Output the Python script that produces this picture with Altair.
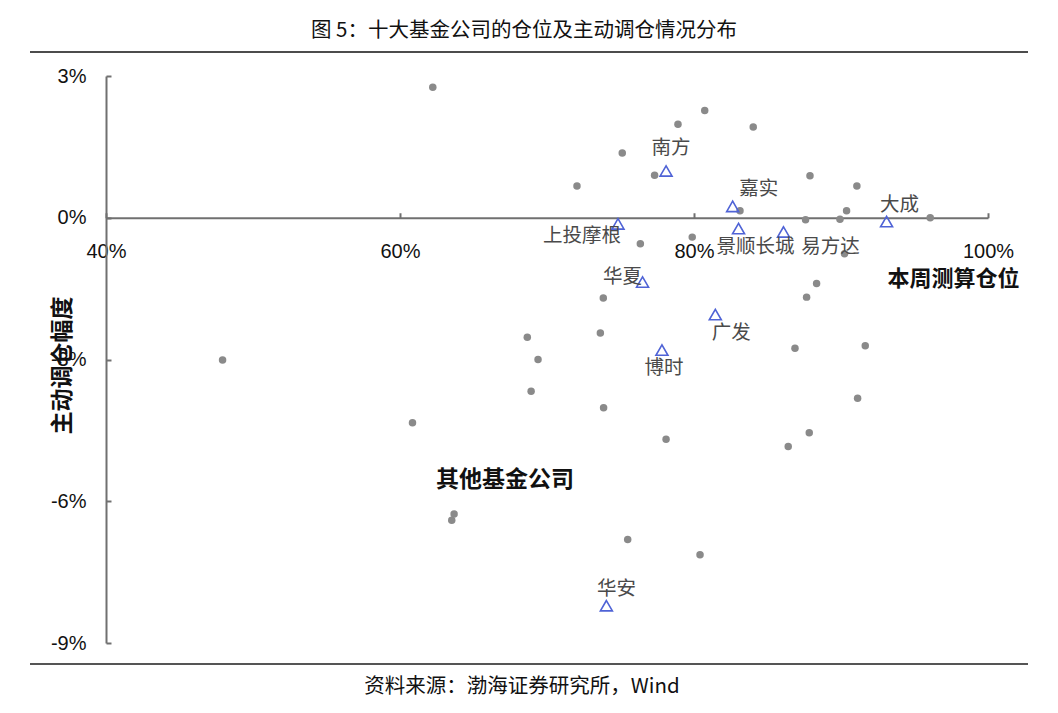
import altair as alt
import pandas as pd

# ---- data ----
other_x = [62.23, 80.73, 78.91, 84.03, 75.12, 77.32, 72.04, 83.13, 87.89, 91.08,
           90.38, 87.59, 89.93, 96.07, 79.88, 76.35, 90.24, 88.34, 87.66, 73.83,
           73.63, 68.66, 69.39, 68.92, 73.85, 78.10, 86.87, 91.65, 91.13, 87.84,
           86.41, 75.49, 80.41, 47.93, 60.85, 63.68, 63.52]
other_y = [2.76, 2.27, 1.98, 1.92, 1.37, 0.90, 0.67, 0.15, 0.89, 0.67,
           0.15, -0.04, -0.03, 0.00, -0.41, -0.55, -0.76, -1.39, -1.68, -1.70,
           -2.44, -2.53, -3.00, -3.67, -4.02, -4.69, -2.76, -2.71, -3.82, -4.55,
           -4.84, -6.81, -7.13, -3.01, -4.34, -6.27, -6.40]

top_names = ["南方", "嘉实", "上投摩根", "景顺长城", "易方达", "大成", "华夏", "广发", "博时", "华安"]
top_x = [78.10, 82.63, 74.83, 83.03, 86.09, 93.10, 76.50, 81.45, 77.82, 74.04]
top_y = [0.99, 0.24, -0.13, -0.23, -0.30, -0.08, -1.36, -2.05, -2.80, -8.21]

x_ticks = [40, 60, 80, 100]
y_ticks = [3, 0, -3, -6, -9]

title_text = "图 5：十大基金公司的仓位及主动调仓情况分布"
source_text = "资料来源：渤海证券研究所，Wind"
x_title = "本周测算仓位"
y_title = "主动调仓幅度"
other_label = "其他基金公司"

# ---- layout ----
W, H = 882, 567
X_DOM = [40, 100]
Y_DOM = [-9, 3]
zero_y = H * (Y_DOM[1] - 0) / (Y_DOM[1] - Y_DOM[0])

CJK = "Noto Sans CJK SC"
LAT = "Liberation Sans"
AXIS_C = "#707070"

others = pd.DataFrame({"x": other_x, "y": other_y})
tops = pd.DataFrame({"name": top_names, "x": top_x, "y": top_y})

xscale = alt.Scale(domain=X_DOM, nice=False, zero=False)
yscale = alt.Scale(domain=Y_DOM, nice=False, zero=False)

x_axis = alt.Axis(
    orient="top", offset=-zero_y, values=x_ticks, labelExpr="datum.value + '%'",
    grid=False, tickSize=5, tickWidth=2, tickColor=AXIS_C,
    domainColor=AXIS_C, domainWidth=2,
    labelFont=LAT, labelFontSize=20, labelColor="#111", labelAngle=0,
    labelBaseline="middle", labelAlign="center", labelPadding=-39,
    labelFlush=False, labelOverlap=False,
    title=x_title, titleFont=CJK, titleFontSize=22, titleFontWeight="bold",
    titleColor="#111", titleX=847, titleY=61, titleAlign="center",
    titleBaseline="middle", titleAngle=0,
)
y_axis = alt.Axis(
    orient="right", offset=-W, values=y_ticks, labelExpr="datum.value + '%'",
    grid=False, tickSize=5, tickWidth=2, tickColor=AXIS_C,
    domainColor=AXIS_C, domainWidth=2,
    labelFont=LAT, labelFontSize=20, labelColor="#111",
    labelBaseline="middle", labelAlign="right", labelPadding=-25,
    labelFlush=False, labelOverlap=False,
    title=y_title, titleFont=CJK, titleFontSize=23, titleFontWeight="bold",
    titleColor="#111", titleX=-44, titleY=289, titleAlign="center",
    titleBaseline="middle", titleAngle=270,
)

X = alt.X("x:Q", scale=xscale, axis=x_axis)
Y = alt.Y("y:Q", scale=yscale, axis=y_axis)

pts = alt.Chart(others).mark_point(
    shape="circle", filled=True, color="#8a8a8a", size=56, opacity=1
).encode(x=X, y=Y)

tri = alt.Chart(tops).mark_point(
    shape="triangle-up", filled=False, color="#4f63d6", size=144, strokeWidth=1.6, opacity=1
).encode(x=X, y=Y)

label_offsets = {
    "南方": (5, -23), "嘉实": (26, -17), "上投摩根": (-36, 12), "景顺长城": (17, 18),
    "易方达": (47, 15), "大成": (13, -17), "华夏": (-20, -5), "广发": (16, 18),
    "博时": (2, 18), "华安": (10, -17),
}
labels = []
for n in top_names:
    dx, dy = label_offsets[n]
    labels.append(
        alt.Chart(tops).transform_filter(alt.datum.name == n).mark_text(
            font=CJK, fontSize=19.5, color="#4a4a4a", dx=dx, dy=dy,
            align="center", baseline="middle",
        ).encode(x=X, y=Y, text="name:N")
    )

one = pd.DataFrame({"t": [0]})

def txt(s, x, y, size, weight="normal", color="#111", font=CJK):
    return alt.Chart(pd.DataFrame({"t": [s]})).mark_text(
        font=font, fontSize=size, fontWeight=weight, color=color,
        align="center", baseline="middle",
    ).encode(x=alt.value(x), y=alt.value(y), text="t:N")

title_mark = txt(title_text, 418, -45, 20.5)
source_mark = txt(source_text, 416, 611, 20.5)
other_mark = txt(other_label, 399, 404, 23, weight="bold")

top_line = alt.Chart(one).mark_rule(color="#111", strokeWidth=1.5).encode(
    x=alt.value(-76), x2=alt.value(922), y=alt.value(-24))
bottom_line = alt.Chart(one).mark_rule(color="#555", strokeWidth=2).encode(
    x=alt.value(-76), x2=alt.value(922), y=alt.value(588))

chart = alt.layer(
    pts, tri, *labels, title_mark, source_mark, other_mark, top_line, bottom_line
).properties(
    width=W, height=H,
    autosize=alt.AutoSizeParams(type="none"),
    padding={"left": 98, "top": 68, "right": 50, "bottom": 60},
).configure(background="white").configure_view(strokeOpacity=0, strokeWidth=0)

chart.save("out.html", embed_options={"renderer": "svg", "actions": False})
